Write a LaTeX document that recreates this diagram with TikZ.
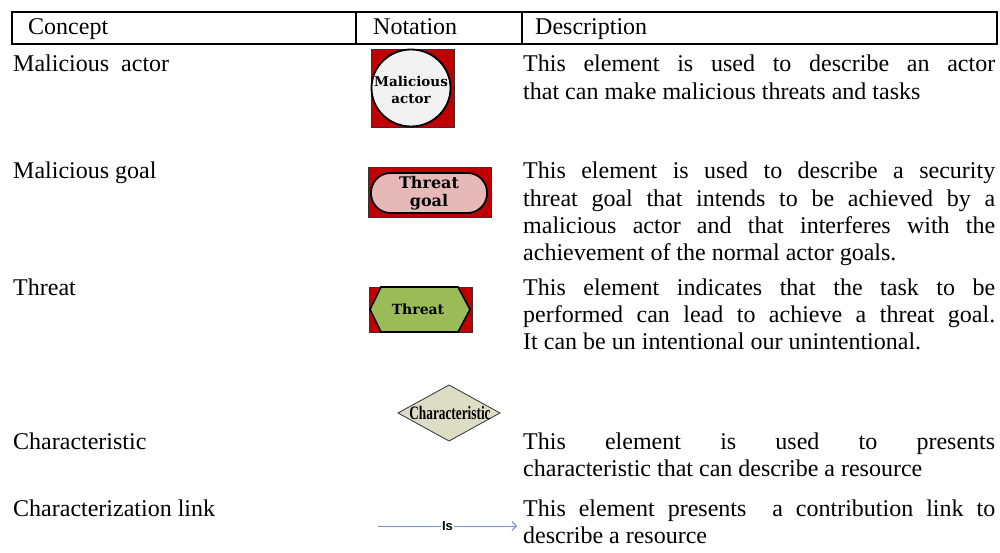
\documentclass[tikz,border=0pt]{standalone}
\usepackage{fontspec}
\setmainfont{Liberation Serif}
\newfontfamily\symfont{DejaVu Serif}
\newfontfamily\linkfont{Liberation Sans}
\usetikzlibrary{arrows.meta}

\definecolor{frame}{HTML}{C00000}
\definecolor{actorfill}{HTML}{F2F2F2}
\definecolor{goalfill}{HTML}{E6B8B7}
\definecolor{threatfill}{HTML}{9BBB59}
\definecolor{charfill}{HTML}{DDDCC5}
\definecolor{linkblue}{HTML}{7393C9}

% one justified line of a description, and a closing (ragged) line
\newcommand{\fullline}[1]{\hbox to 472pt{#1}}
\newcommand{\lastline}[1]{\hbox{#1}}

\tikzset{
  body/.style={font=\fontsize{24}{27.3}\selectfont, inner sep=0pt, anchor=base west},
  desc/.style={body},
  tablerule/.style={line width=2pt},
  backframe/.style={fill=frame, draw=black!80, line width=0.8pt},
  symbold/.style={font=\symfont\bfseries, align=center, inner sep=0pt},
}

\begin{document}
\begin{tikzpicture}[x=1pt, y=-1pt]
\useasboundingbox (0,0) rectangle (1000,553);

% header row
\draw[tablerule] (12,12) rectangle (997,44);
\draw[tablerule] (356,12) -- (356,44);
\draw[tablerule] (522,12) -- (522,44);
\node[body] (hconcept) at (28,35) {Concept};
\node[body] (hnotation) at (373,35) {Notation};
\node[body] (hdesc) at (535,35) {Description};

% concept names
\node[body] (c1) at (13,72) {Malicious~~actor};
\node[body] (c2) at (13,179) {Malicious goal};
\node[body] (c3) at (13,295) {Threat};
\node[body] (c4) at (13,449) {Characteristic};
\node[body] (c5) at (13,516) {Characterization link};

% notation: malicious actor
\draw[backframe] (371,49) rectangle (454,127);
\draw[fill=actorfill, draw=black, line width=1.8pt] (411,88) ellipse [x radius=39.5, y radius=38.5];
\node[symbold, font=\symfont\bfseries\fontsize{13.5}{17.5}\selectfont] (actor) at (411,90) {Malicious\\actor};

% notation: threat goal
\draw[backframe] (368,167) rectangle (491,217);
\draw[fill=goalfill, draw=black, line width=1.8pt, rounded corners=19.5pt] (371,173) rectangle (487,213);
\node[symbold, font=\symfont\bfseries\fontsize{16}{18.5}\selectfont] (goal) at (429,193) {Threat\\goal};

% notation: threat
\draw[backframe] (369,287) rectangle (472,332);
\draw[fill=threatfill, draw=black, line width=1.6pt]
  (370,309.5) -- (381,287) -- (458,287) -- (470,309.5) -- (458,332) -- (381,332) -- cycle;
\node[symbold, font=\symfont\bfseries\fontsize{14}{16}\selectfont] (threat) at (418,309) {Threat};

% notation: characteristic
\draw[fill=charfill, draw=black!80, line width=0.8pt]
  (398,413) -- (449,385) -- (500,413) -- (449,441) -- cycle;
\node[inner sep=0pt, font=\bfseries\fontsize{19}{21}\selectfont] (charac) at (450,413)
  {\scalebox{0.7}[1]{Characteristic}};

% notation: characterization link
\coordinate (ls) at (378,526);
\coordinate (le) at (517,526);
\draw[linkblue, line width=0.9pt, -{Straight Barb[length=4.5pt, width=9pt]}]
  (ls) -- node[fill=white, inner sep=1pt, text=black, font=\linkfont\bfseries\fontsize{13}{15}\selectfont] (islabel) {Is} (le);

% descriptions
\node[desc] (d1) at (523,72) {\vtop{%
  \fullline{This element is used to describe an actor}
  \lastline{that can make malicious threats and tasks}}};
\node[desc] (d2) at (523,179) {\vtop{%
  \fullline{This element is used to describe a security}
  \fullline{threat goal that intends to be achieved by a}
  \fullline{malicious actor and that interferes with the}
  \lastline{achievement of the normal actor goals.}}};
\node[desc] (d3) at (523,295) {\vtop{%
  \fullline{This element indicates that the task to be}
  \fullline{performed can lead to achieve a threat goal.}
  \lastline{It can be un intentional our unintentional.}}};
\node[desc] (d4) at (523,449) {\vtop{%
  \fullline{This element is used to presents}
  \lastline{characteristic that can describe a resource}}};
\node[desc] (d5) at (523,516) {\vtop{%
  \fullline{This element presents~ a contribution link to}
  \lastline{describe a resource}}};
\end{tikzpicture}
\end{document}
